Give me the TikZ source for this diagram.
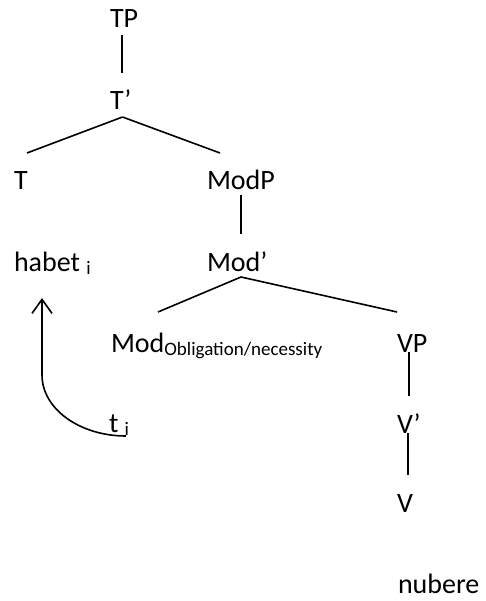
\documentclass[tikz,border=0pt]{standalone}
\usepackage{fontspec}
\setmainfont{Carlito}
\usetikzlibrary{arrows.meta}
\newcommand{\subsz}[1]{{\fontsize{19}{21}\selectfont #1}}
\begin{document}
\begin{tikzpicture}[x=1pt,y=-1pt,
  lbl/.style={anchor=base west,inner sep=0pt,outer sep=0pt,font=\fontsize{28}{33}\selectfont},
  edge/.style={line width=1.6pt},
  move/.style={line width=1.6pt,-{Straight Barb[length=14pt,width=20pt,line width=1.6pt]}}]
\useasboundingbox (0,0) rectangle (486,601);
% labels
\node[lbl] (TP) at (110,28) {TP};
\node[lbl] (Tbar) at (110,110) {T’};
\node[lbl] (T) at (14,190) {T};
\node[lbl] (ModP) at (207,190) {ModP};
\node[lbl] (habet) at (14,271) {habet \raisebox{-3pt}{\subsz{i}}};
\node[lbl] (Modbar) at (207,271) {Mod’};
\node[lbl] (Mod) at (111,352) {Mod\raisebox{-3pt}{\subsz{Obligation/necessity}}};
\node[lbl] (VP) at (397,352) {VP};
\node[lbl] (Vbar) at (397,433) {V’};
\node[lbl] (V) at (397,512) {V};
\node[lbl] (nubere) at (398,593) {nubere};
\node[lbl] (trace) at (109,432) {t \raisebox{-3pt}{\subsz{i}}};
% connector ends
\coordinate (TPd) at (122,35);
\coordinate (Tbu) at (122,73);
\coordinate (Tbd) at (122.5,117);
\coordinate (Tu) at (27,153);
\coordinate (ModPu) at (220,153);
\coordinate (ModPd) at (241,195);
\coordinate (Modbu) at (241,234);
\coordinate (Modbd) at (241,277);
\coordinate (Modu) at (158,312);
\coordinate (VPu) at (397,312);
\coordinate (VPd) at (409,352);
\coordinate (Vbu) at (409,396);
\coordinate (Vbd) at (408,433);
\coordinate (Vu) at (408,475);
\coordinate (tr) at (126,436);
\coordinate (hb) at (42,298);
% tree
\draw[edge] (TPd) -- (Tbu);
\draw[edge] (Tbd) -- (Tu);
\draw[edge] (Tbd) -- (ModPu);
\draw[edge] (ModPd) -- (Modbu);
\draw[edge] (Modbd) -- (Modu);
\draw[edge] (Modbd) -- (VPu);
\draw[edge] (VPd) -- (Vbu);
\draw[edge] (Vbd) -- (Vu);
% movement
\draw[move] (tr) .. controls (80,436) and (42,409) .. (42,375) -- (hb);
\end{tikzpicture}
\end{document}
